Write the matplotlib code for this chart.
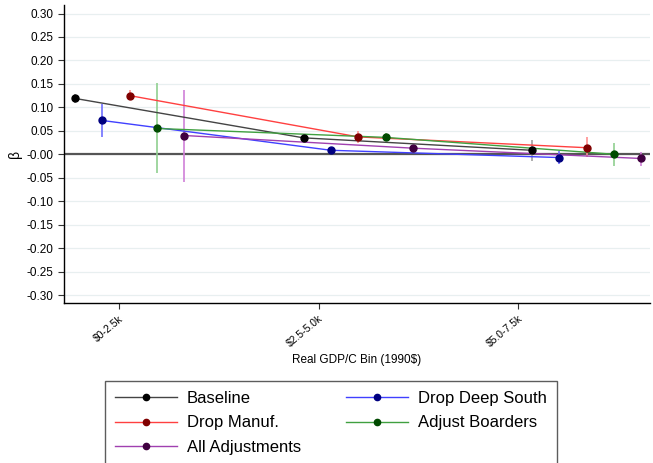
import numpy as np
import matplotlib
matplotlib.use('Agg')
import matplotlib.pyplot as plt
from matplotlib.lines import Line2D

plt.rcParams['font.family'] = ['Liberation Sans', 'DejaVu Sans']

bins = ["$0-2.5k", "$2.5-5.0k", "$5.0-7.5k"]
series = ["Baseline", "Drop Deep South", "Drop Manuf.", "Adjust Boarders", "All Adjustments"]

# point estimates per bin
beta_baseline = [0.119, 0.035, 0.0085]
beta_south    = [0.072, 0.0085, -0.007]
beta_manuf    = [0.125, 0.037, 0.014]
beta_border   = [0.055, 0.036, 0.000]
beta_all      = [0.040, 0.013, -0.009]

# confidence interval bounds
lo_baseline = [0.110, 0.030, -0.014]
hi_baseline = [0.128, 0.041, 0.031]
lo_south    = [0.036, 0.005, -0.021]
hi_south    = [0.108, 0.012, 0.007]
lo_manuf    = [0.115, 0.025, -0.006]
hi_manuf    = [0.136, 0.049, 0.036]
lo_border   = [-0.040, 0.028, -0.024]
hi_border   = [0.151, 0.045, 0.024]
lo_all      = [-0.060, 0.009, -0.024]
hi_all      = [0.138, 0.017, 0.005]

betas = [beta_baseline, beta_south, beta_manuf, beta_border, beta_all]
los = [lo_baseline, lo_south, lo_manuf, lo_border, lo_all]
his = [hi_baseline, hi_south, hi_manuf, hi_border, hi_all]

line_colors = ['#444444', '#4040ff', '#ff4040', '#40a040', '#a040b0']
ci_colors   = ['#a0a0a0', '#7070ff', '#ff9090', '#90d090', '#d080d8']
mk_colors   = ['#000000', '#000080', '#800000', '#004a00', '#400040']

# horizontal layout of the dodged points
START, GROUP_STEP, SERIES_STEP = -0.22, 1.145, 0.137

fig = plt.figure(figsize=(6.53, 4.63), dpi=100)
ax = fig.add_axes([0.098, 0.3456, 0.897, 0.6434])

yt = np.round(np.arange(-0.30, 0.301, 0.05), 2)
for y in yt:
    ax.axhline(y, color='#e8eff0', lw=0.9, zorder=0)
ax.axhline(0, color='#555555', lw=1.6, zorder=1)

for j, name in enumerate(series):
    xs = [START + GROUP_STEP * i + SERIES_STEP * j for i in range(len(bins))]
    ax.vlines(xs, los[j], his[j], color=ci_colors[j], lw=1.2, zorder=2)
    ax.plot(xs, betas[j], color=line_colors[j], lw=1.0, zorder=3)
    ax.plot(xs, betas[j], 'o', color=mk_colors[j], ms=5, zorder=4)

ax.set_ylim(-0.317, 0.318)
ax.set_xlim(-0.276, 2.66)
ax.set_yticks(yt)
ax.set_yticklabels([f"{v:.2f}" for v in yt], fontsize=8.5)
ax.set_xticks(range(len(bins)))
ax.set_xticklabels(bins, rotation=40, ha='right', rotation_mode='anchor', fontsize=7.5)
ax.tick_params(axis='both', length=4, width=0.8, color='#333333')
ax.spines['top'].set_visible(False)
ax.spines['right'].set_visible(False)
ax.spines['left'].set_linewidth(1.0)
ax.spines['bottom'].set_linewidth(1.0)
ax.set_xlabel("Real GDP/C Bin (1990$)", fontsize=8.5, labelpad=4)
ax.set_ylabel("β", fontsize=10)
ax.yaxis.set_label_coords(-0.072, 0.5)

handles = [Line2D([0], [0], color=line_colors[j], lw=1.0, marker='o', ms=4.5,
                  markerfacecolor=mk_colors[j], markeredgecolor=mk_colors[j])
           for j in range(len(series))]
order = [0, 2, 4, 1, 3]
leg = fig.legend([handles[k] for k in order], [series[k] for k in order],
                 ncol=2, loc='upper left', bbox_to_anchor=(105 / 653, 1 - 381 / 463, 452 / 653, 0.0),
                 mode='expand', fontsize=12, frameon=True, fancybox=False,
                 edgecolor='#333333', handlelength=3.7, handletextpad=0.6,
                 labelspacing=0.56, borderpad=0.6, borderaxespad=0, columnspacing=0.5)
leg.get_frame().set_linewidth(1.0)

fig.savefig('out.png', dpi=100, facecolor='white')
